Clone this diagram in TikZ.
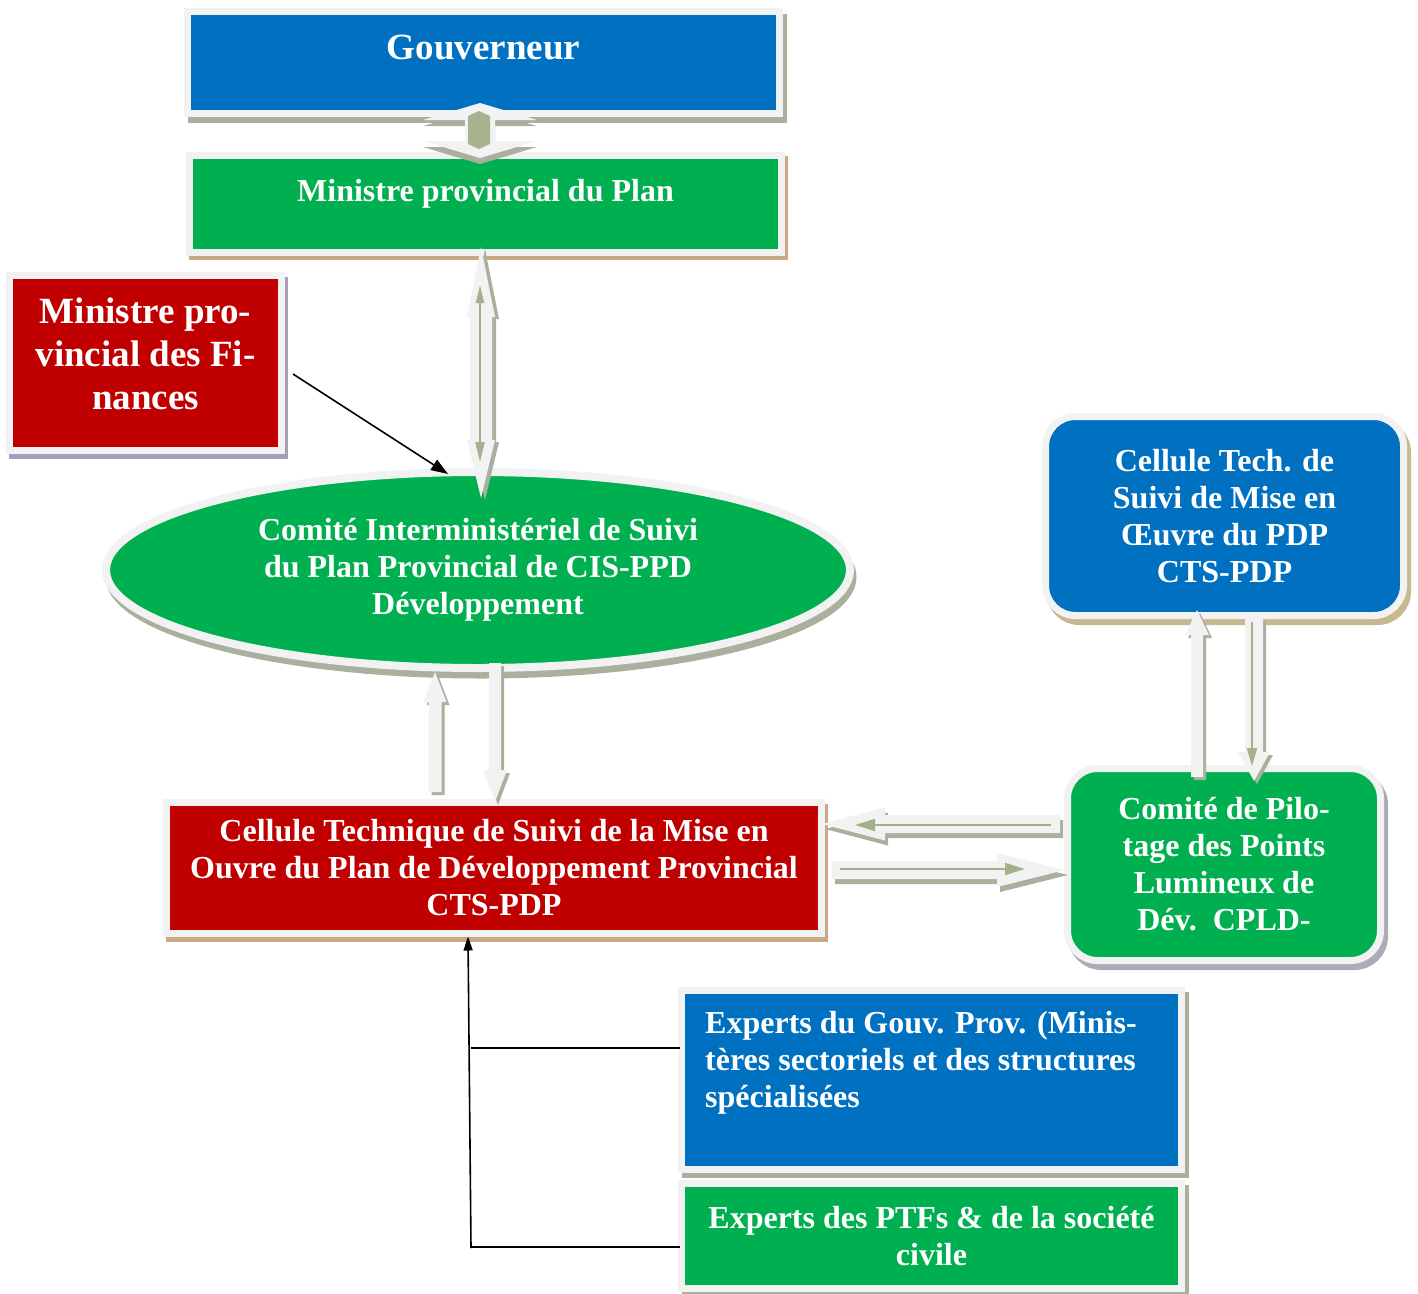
\documentclass[tikz,border=0pt]{standalone}
\usepackage{fontspec}
\setmainfont{Liberation Serif}
\usetikzlibrary{arrows.meta,shapes.geometric}
\definecolor{cblue}{HTML}{0070C0}
\definecolor{cgreen}{HTML}{00B050}
\definecolor{cred}{HTML}{C00000}
\definecolor{rim}{HTML}{F2F2F2}
\definecolor{shgg}{HTML}{A9B09E}
\definecolor{shtan}{HTML}{C9A883}
\definecolor{shkhaki}{HTML}{C6B98F}
\definecolor{shlav}{HTML}{A59DBA}
\definecolor{shgb}{HTML}{A8ADB6}
\definecolor{innerc}{HTML}{A3B08C}
\definecolor{hexc}{HTML}{A7B38F}
\newcommand\mytxt{\bfseries\fontsize{32}{37}\selectfont}
\newcommand\mybig{\bfseries\fontsize{37}{43}\selectfont}
\tikzset{
  box/.style={draw=rim, line width=7pt, inner sep=0pt, outer sep=0pt, text=white, font=\mytxt, align=center},
  sh/.style n args={3}{preaction={fill=#1, draw=#1, line width=7pt, transform canvas={shift={(#2pt,-#3pt)}}}},
  txt/.style={text=white, font=\mytxt, inner sep=0pt, align=center},
  innerln/.style={draw=innerc, line width=2pt},
  blk/.style={draw=black, line width=1.6pt, -{Triangle[length=17pt,width=12pt]}},
  blkv/.style={draw=black, line width=1.6pt, -{Triangle[length=14pt,width=9pt]}},
  blkl/.style={draw=black, line width=1.4pt},
  pics/barrow/.style n args={5}{code={
    \fill[#5] (0,-#2) -- ({#1-#4},-#2) -- ({#1-#4},-#3) -- (#1,0) -- ({#1-#4},#3) -- ({#1-#4},#2) -- (0,#2) -- cycle;}},
  pics/dbarrow/.style n args={6}{code={
    \fill[#6] (0,0) -- (#4,#3) -- (#4,#2) -- ({#1-#5},#2) -- ({#1-#5},#3) -- (#1,0) -- ({#1-#5},-#3) -- ({#1-#5},-#2) -- (#4,-#2) -- (#4,-#3) -- cycle;}}
}
\newcommand\fatarr[7]{%
  \pic[shift={#7}, rotate=#2] at (#1) {barrow={#3}{#4}{#5}{#6}{shgg}};
  \pic[rotate=#2] at (#1) {barrow={#3}{#4}{#5}{#6}{rim}};
}
\begin{document}
\begin{tikzpicture}[x=1pt,y=-1pt]
\useasboundingbox (0,0) rectangle (1418,1293);

% boxes
\node[box, fill=cblue, sh={shgg}{4}{6}, minimum width=592pt, minimum height=102pt] (gouv) at (483.5,62.5) {};
\node[txt, font=\mybig, anchor=base] (gouvtxt) at (483.5,59) {Gouverneur};

\node[box, fill=cgreen, sh={shtan}{3}{4}, minimum width=592pt, minimum height=97pt] (plan) at (485.5,204) {};
\node[txt, anchor=base] (plantxt) at (485.5,201) {Ministre provincial du Plan};

\node[box, fill=cred, sh={shlav}{3}{5}, minimum width=272pt, minimum height=175pt] (fin) at (145.5,363) {};
\node[txt, font=\mybig] (fintxt) at (145.5,354) {Ministre pro-\\vincial des Fi-\\nances};

\node[box, ellipse, fill=cgreen, sh={shgg}{3}{7}, line width=8pt, minimum width=744pt, minimum height=196pt] (cis) at (478,570)
  {Comité Interministériel de Suivi\\du Plan Provincial de CIS-PPD\\Développement};

\node[box, fill=cred, sh={shtan}{3}{5}, minimum width=655pt, minimum height=131pt] (cts) at (494,868)
  {Cellule Technique de Suivi de la Mise en\\Ouvre du Plan de Développement Provincial\\CTS-PDP};

\node[box, rounded corners=30pt, fill=cblue, sh={shkhaki}{4}{6}, minimum width=358pt, minimum height=199pt] (ctsr) at (1224.5,516)
  {Cellule Tech. de\\Suivi de Mise en\\Œuvre du PDP\\CTS-PDP};

\node[box, rounded corners=30pt, fill=cgreen, sh={shgb}{4}{6}, minimum width=313pt, minimum height=192pt] (cpld) at (1224,864.5)
  {Comité de Pilo-\\tage des Points\\Lumineux de\\Dév.\ \ CPLD-};

\node[box, fill=cblue, sh={shgg}{4}{5}, minimum width=500pt, minimum height=179pt] (expg) at (931.5,1080) {};
\node[txt, align=left, anchor=west] (expgtxt) at (705,1062.5) {Experts du Gouv. Prov. (Minis-\\tères sectoriels et des structures\\spécialisées};

\node[box, fill=cgreen, sh={shgg}{4}{5}, minimum width=500pt, minimum height=105pt] (ptf) at (931.5,1236)
  {Experts des PTFs \& de la société\\civile};

% Gouverneur <-> Ministre du Plan block arrow
\begin{scope}[shift={(480,130)}]
  \fill[shgg] (0,-21) -- (57,-4) -- (15,-4) -- (15,17) -- (57,17) -- (0,34) -- (-57,17) -- (-15,17) -- (-15,-4) -- (-57,-4) -- cycle;
  \fill[rim] (0,-27) -- (57,-10) -- (15,-10) -- (15,11) -- (57,11) -- (0,28) -- (-57,11) -- (-15,11) -- (-15,-10) -- (-57,-10) -- cycle;
  \fill[hexc] (-1,-19) -- (10,-14) -- (10,14) -- (-1,19) -- (-12,14) -- (-12,-14) -- cycle;
\end{scope}

% Ministre du Plan <-> Comite
\coordinate (a1) at (481,247);
\pic[shift={(4,2)}, rotate=-90] at (a1) {dbarrow={251}{11}{14}{70}{58}{shgg}};
\pic[rotate=-90] at (a1) {dbarrow={251}{11}{14}{70}{58}{rim}};
\draw[innerln, {Triangle[length=18pt,width=8pt]}-{Triangle[length=20pt,width=9pt]}] (480,285) -- (480,462);

% Comite <-> Cellule
\coordinate (a2) at (435,792);
\fatarr{a2}{90}{120}{6.5}{11.5}{30}{(3,3)}
\coordinate (a3) at (495,663);
\fatarr{a3}{-90}{139}{6}{12}{32}{(3,3)}

% right column
\coordinate (a4) at (1197,777);
\fatarr{a4}{90}{167}{6}{12}{25}{(3,3)}
\coordinate (a5) at (1254,618);
\fatarr{a5}{-90}{163}{9}{16}{29}{(3,3)}
\draw[innerln, -{Triangle[length=18pt,width=10pt]}] (1252,622) -- (1252,766);

% horizontal
\coordinate (a6) at (1060,824);
\fatarr{a6}{180}{238}{9}{16.5}{63}{(3,5)}
\draw[innerln, -{Triangle[length=20pt,width=12pt]}] (1051,825) -- (855,825);
\coordinate (a7) at (832,870);
\fatarr{a7}{0}{233}{9}{17}{68}{(3,5)}
\draw[innerln, -{Triangle[length=20pt,width=12pt]}] (840,869) -- (1025,869);

% black connectors
\draw[blk] ([shift={(11.5,11)}]fin.east) -- ([shift={(-30,2)}]cis.north);
\coordinate (jb) at (471,1248);
\draw[blkv] (jb) -- ([shift={(-26,3)}]cts.south);
\coordinate (jm) at (471,1048);
\coordinate (jl) at (471,1247);
\draw[blkl] (jm) -- ([shift={(-2,-32)}]expg.west);
\draw[blkl] (jl) -- ([shift={(-2,11)}]ptf.west);
\end{tikzpicture}
\end{document}
